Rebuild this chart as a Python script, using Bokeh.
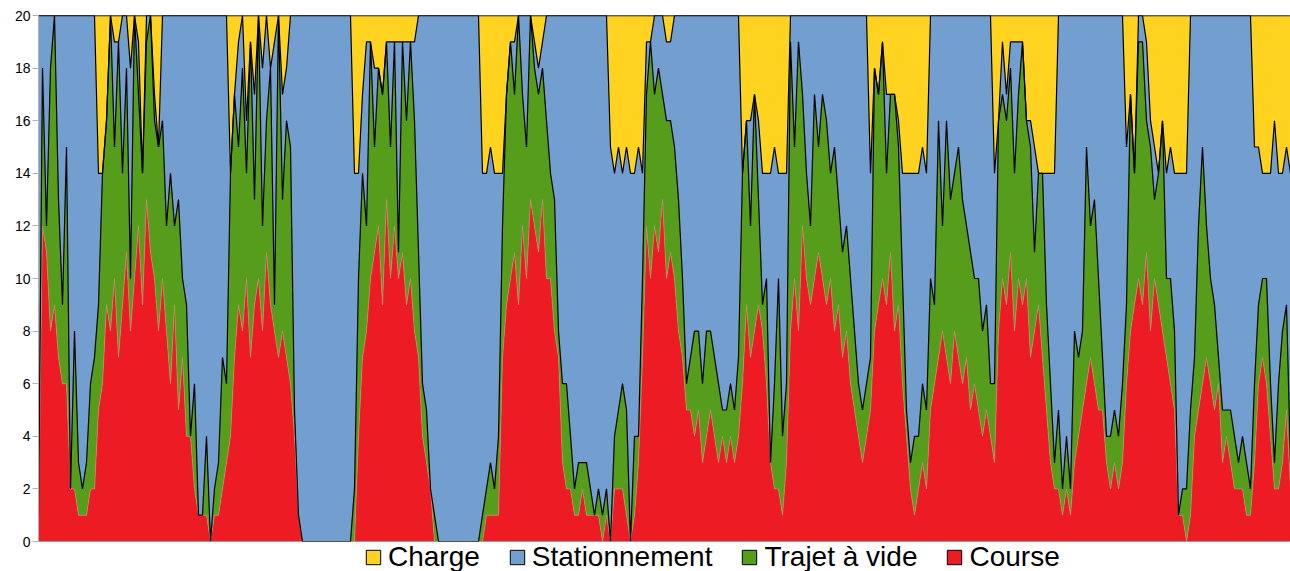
from bokeh.plotting import figure
from bokeh.layouts import column
from bokeh.models import Range1d, Legend, LegendItem, FixedTicker, ColumnDataSource, Span
from bokeh.embed import file_html
from bokeh.resources import INLINE

FLEET = 20
SERIES = ["Charge", "Stationnement", "Trajet à vide", "Course"]
COLORS = {"Charge": "#FFD320", "Stationnement": "#729FCF", "Trajet à vide": "#579D1C", "Course": "#ED1C24"}
Y_TICKS = [0, 2, 4, 6, 8, 10, 12, 14, 16, 18, 20]

# stacked levels (top of each band), one sample per time step
niveau_course = [
    1,12,11,8,9,7,6,6,2,2,
    1,1,1,2,2,5,6,9,8,10,
    7,9,11,8,10,12,9,13,11,10,
    8,10,8,6,9,5,7,4,4,2,
    1,1,1,0,1,1,2,3,4,7,
    9,8,10,7,9,10,8,11,9,8,
    7,8,7,6,4,1,0,0,0,0,
    0,0,0,0,0,0,0,0,0,0,
    4,7,8,10,11,12,9,13,10,12,
    10,11,9,10,8,7,4,3,2,0,
    0,0,0,0,0,0,0,0,0,0,
    0,0,1,1,1,1,7,9,10,11,
    9,12,10,13,12,11,13,10,10,8,
    7,3,2,2,1,1,2,1,1,1,
    1,0,1,0,2,2,2,1,0,1,
    3,7,12,10,12,11,13,10,11,10,
    8,7,5,5,4,5,3,4,5,4,
    3,4,3,4,3,4,6,9,7,8,
    9,8,6,3,2,2,1,3,8,10,
    8,12,10,9,10,11,10,9,10,8,
    9,7,8,6,5,4,3,4,5,8,
    9,10,9,11,8,9,6,4,2,1,
    2,3,2,5,6,7,8,7,6,8,
    7,6,7,5,6,5,4,5,4,3,
    8,10,9,11,8,10,9,10,7,8,
    9,7,5,3,2,2,1,2,1,3,
    4,5,6,7,6,5,5,3,2,3,
    2,3,6,8,9,10,9,11,8,10,
    9,8,7,6,5,1,1,0,1,4,
    5,6,7,6,5,6,3,4,3,2,
    2,2,1,1,3,6,7,6,4,2,
    2,3,5,2,
]
niveau_trajet = [
    1,18,12,18,20,13,9,15,2,8,
    3,2,3,6,7,9,14,16,20,15,
    19,14,18,10,20,17,14,19,20,16,
    15,16,12,14,12,13,10,9,4,6,
    1,1,4,0,2,3,7,6,14,17,
    15,18,14,19,13,20,12,16,18,9,
    20,13,16,15,5,1,0,0,0,0,
    0,0,0,0,0,0,0,0,0,2,
    10,14,12,19,15,18,17,19,15,19,
    11,19,16,19,16,11,6,5,2,1,
    0,0,0,0,0,0,0,0,0,0,
    0,1,2,3,2,4,12,17,19,17,
    20,17,15,20,18,17,18,16,14,13,
    8,6,6,4,2,3,3,3,2,1,
    2,1,2,0,4,5,6,5,0,4,
    4,10,17,19,17,18,17,16,16,15,
    13,10,6,7,8,8,6,8,8,7,
    6,5,5,6,5,7,14,16,12,17,
    13,9,10,3,6,10,4,6,19,15,
    19,17,14,12,17,15,17,16,14,15,
    13,11,12,10,8,6,5,6,7,18,
    17,19,14,17,17,15,10,5,3,4,
    4,6,5,10,9,16,12,16,13,14,
    15,13,12,11,10,10,8,9,6,6,
    16,17,16,18,14,17,19,16,15,11,
    14,14,9,6,3,5,2,4,2,8,
    7,8,15,12,13,10,7,4,4,5,
    4,6,9,17,14,19,19,16,15,13,
    14,16,10,10,8,1,2,2,5,7,
    12,15,12,10,9,7,5,5,5,4,
    3,4,3,2,6,9,10,10,6,3,
    6,8,9,3,
]
niveau_stationnement = [
    20,20,20,20,20,20,20,20,20,20,
    20,20,20,20,20,14,14,16,20,19,
    19,20,20,18,20,19,14,20,20,17,
    15,20,20,20,20,20,20,20,20,20,
    20,20,20,20,20,20,20,20,14,17,
    19,20,16,19,17,20,18,20,18,19,
    20,17,18,20,20,20,20,20,20,20,
    20,20,20,20,20,20,20,20,20,14,
    14,17,19,19,18,18,17,19,19,19,
    19,19,19,19,19,20,20,20,20,20,
    20,20,20,20,20,20,20,20,20,20,
    20,14,14,15,14,14,14,17,19,19,
    20,20,20,20,19,18,19,20,20,20,
    20,20,20,20,20,20,20,20,20,20,
    20,20,20,15,14,15,14,15,14,14,
    15,14,19,19,20,20,20,19,19,20,
    20,20,20,20,20,20,20,20,20,20,
    20,20,20,20,20,20,14,16,16,17,
    16,14,14,14,15,14,14,14,20,20,
    20,20,20,20,20,20,20,20,20,20,
    20,20,20,20,20,20,20,20,14,18,
    17,19,17,17,17,16,14,14,14,14,
    14,15,14,20,20,20,20,20,20,20,
    20,20,20,20,20,20,20,20,20,14,
    16,19,17,19,19,19,19,16,16,15,
    14,14,14,14,14,20,20,20,20,20,
    20,20,20,20,20,20,20,20,20,20,
    20,20,15,17,14,20,20,19,16,15,
    14,16,14,15,14,14,14,14,20,20,
    20,20,20,20,20,20,20,20,20,20,
    20,20,20,20,15,15,14,14,14,16,
    14,14,15,14,
]

N = len(niveau_course)
pas = list(range(N))
src = ColumnDataSource(dict(x=pas, r=niveau_course, g=niveau_trajet, b=niveau_stationnement,
                            top=[FLEET] * N, zero=[0] * N))

p = figure(width=1290, height=548, output_backend="svg", toolbar_location=None,
           x_range=Range1d(0, N - 1), y_range=Range1d(0, FLEET), x_axis_location=None,
           min_border_left=38, min_border_top=15, min_border_right=0, min_border_bottom=7)
p.background_fill_color = "white"
p.border_fill_color = "white"
p.outline_line_color = "#b3b3b3"
p.xgrid.grid_line_color = None
p.ygrid.grid_line_color = None

ax = p.yaxis[0]
ax.ticker = FixedTicker(ticks=Y_TICKS)
ax.axis_line_color = "#b3b3b3"
ax.major_tick_line_color = "#b3b3b3"
ax.major_tick_in = 0
ax.major_tick_out = 6
ax.minor_tick_line_color = None
ax.major_label_standoff = 2
ax.major_label_text_font = "Liberation Sans"
ax.major_label_text_font_size = "14px"
ax.major_label_text_color = "#000000"

p.varea(x="x", y1="b", y2="top", source=src, fill_color=COLORS["Charge"])
p.varea(x="x", y1="g", y2="b", source=src, fill_color=COLORS["Stationnement"])
p.varea(x="x", y1="r", y2="g", source=src, fill_color=COLORS["Trajet à vide"])
p.varea(x="x", y1="zero", y2="r", source=src, fill_color=COLORS["Course"])
p.line(x="x", y="r", source=src, line_color="#b8946a", line_width=1, line_alpha=0.7)
p.line(x="x", y="b", source=src, line_color="black", line_width=1.2)
p.line(x="x", y="g", source=src, line_color="black", line_width=1.2)
p.add_layout(Span(location=FLEET, dimension="width", line_color="black", line_width=1.5))

# legend strip under the chart (transparent, pulled up over the chart's bottom border)
lf = figure(width=1290, height=37, output_backend="svg", toolbar_location=None,
            x_range=Range1d(0, 1), y_range=Range1d(0, 1),
            x_axis_location=None, y_axis_location=None,
            min_border_left=0, min_border_top=0, min_border_right=0, min_border_bottom=0,
            margin=(-14, 0, 0, 0))
lf.outline_line_color = None
lf.xgrid.grid_line_color = None
lf.ygrid.grid_line_color = None
lf.background_fill_alpha = 0
lf.border_fill_alpha = 0

items = []
for s in SERIES:
    # swatch source kept outside the visible range: only the legend glyph is drawn
    swatch = ColumnDataSource(dict(l=[5], r=[6], t=[6], b=[5]))
    rr = lf.quad(left="l", right="r", top="t", bottom="b", source=swatch,
                 fill_color=COLORS[s], line_color="black", line_width=1)
    items.append(LegendItem(label=s, renderers=[rr]))

legend = Legend(items=items, orientation="horizontal", location=(326, -2),
                label_text_font="Liberation Sans", label_text_font_size="28px",
                label_text_color="#000000", label_text_baseline="middle",
                glyph_width=18, glyph_height=18, label_standoff=6, spacing=28,
                padding=0, margin=0, border_line_color=None, background_fill_alpha=0,
                label_height=26)
lf.add_layout(legend)

layout = column(p, lf, spacing=0)
open("out.html", "w").write(file_html(layout, INLINE))
